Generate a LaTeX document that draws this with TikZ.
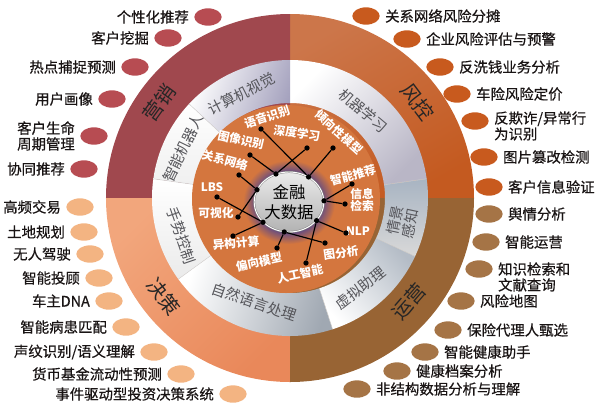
\documentclass[tikz,border=0pt]{standalone}
\usepackage{fontspec}
\setmainfont{Noto Sans CJK SC}
\newfontfamily\lblfont{Noto Sans CJK SC}[FakeBold=0.5]
\usepackage{tikz}
\usetikzlibrary{positioning,shapes.geometric}
\definecolor{cMkt}{RGB}{160,72,78}
\definecolor{cRiskA}{RGB}{204,118,74}
\definecolor{cRiskB}{RGB}{196,90,32}
\definecolor{cDecA}{RGB}{242,166,124}
\definecolor{cDecB}{RGB}{233,136,90}
\definecolor{cOps}{RGB}{152,100,52}
\definecolor{dMkt}{RGB}{183,76,82}
\definecolor{dRisk}{RGB}{200,90,30}
\definecolor{dDec}{RGB}{243,180,130}
\definecolor{dOps}{RGB}{165,116,70}
\definecolor{cDisc}{RGB}{212,118,62}
\definecolor{cGlow}{RGB}{84,70,140}
\definecolor{cRingTxt}{RGB}{85,85,90}
\definecolor{cTxt}{RGB}{25,20,20}
\definecolor{gML}{RGB}{185,182,198}
\definecolor{gCV}{RGB}{165,162,190}
\definecolor{gNLP}{RGB}{160,168,178}
\definecolor{gVA}{RGB}{180,188,198}
\definecolor{gCtx}{RGB}{168,180,194}
\pgfdeclareradialshading{glow}{\pgfpoint{0cm}{0cm}}{color(0bp)=(cGlow); color(17bp)=(cGlow); color(25bp)=(cDisc); color(50bp)=(cDisc)}

\begin{document}
\begin{tikzpicture}[x=0.03cm,y=0.03cm,font=\fontsize{12.3}{13.5}\selectfont,
  lbl/.style={text=cTxt,inner sep=0pt,font=\lblfont\fontsize{12.3}{13.5}\selectfont},
  blob/.style={ellipse,minimum width=0.82cm,minimum height=0.52cm,inner sep=0pt},
  quad/.style={font=\fontsize{17}{19}\selectfont,text=black!85},
  sect/.style={font=\fontsize{12.5}{13.5}\selectfont,text=cRingTxt,inner sep=0pt},
  tag/.style={font=\bfseries\fontsize{10}{11}\selectfont,text=white,inner sep=0pt},
  pin/.style={circle,fill=black,inner sep=0pt,minimum size=4.5pt},
  link/.style={line width=1pt},
  node distance=0.15cm]
\useasboundingbox (-290,-210) rectangle (308,198);
% outer quadrants
\shade[top color=cRiskA,bottom color=cRiskB,shading angle=30] (0,0) -- (0:184) arc[start angle=0,end angle=90,radius=184] -- cycle;
\fill[cMkt] (0,0) -- (90:184) arc[start angle=90,end angle=180,radius=184] -- cycle;
\shade[top color=cDecA,bottom color=cDecB,shading angle=45] (0,0) -- (180:184) arc[start angle=180,end angle=270,radius=184] -- cycle;
\fill[cOps] (0,0) -- (270:184) arc[start angle=270,end angle=360,radius=184] -- cycle;
\node[quad,rotate=54] (qMkt) at (144:162) {营销};
\node[quad,rotate=-53] (qRisk) at (37:160) {风控};
\node[quad,rotate=-52] (qDec) at (218:160) {决策};
\node[quad,rotate=49] (qOps) at (319:158) {运营};
% technology ring
\foreach \a/\b/\ca/\cb/\sh in {8/90/gML/white/-135,90/137/gCV/white/-110,137/172/white/black!6/0,
    172/216/white/black!8/0,216/288/gNLP/white/-108,288/335/gVA/white/-49,335/368/gCtx/black!15/0}
  \shade[top color=\ca,bottom color=\cb,shading angle=\sh] (\a:138) arc[start angle=\a,end angle=\b,radius=138]
    -- (\b:95) arc[start angle=\b,end angle=\a,radius=95] -- cycle;
\foreach \a in {8,137,172,216,288,335}
  \draw[black!18,thin] (\a:95) -- (\a:138);
\node[sect,rotate=27] (sCV) at (115:115) {计算机视觉};
\node[sect,rotate=64] (sRob) at (155:118) {智能机器人};
\node[sect,rotate=-71] (sGes) at (199:115) {手势控制};
\node[sect,rotate=-19] (sNLP) at (251:110) {自然语言处理};
\node[sect,rotate=38] (sVA) at (308:114) {虚拟助理};
\node[sect,rotate=78,align=center] (sCtx) at (348:115) {情景\\感知};
\node[sect,rotate=-40] (sML) at (50:114) {机器学习};
% core
\fill[cDisc] (-4,-1) circle[radius=94];
\shade[shading=glow] (-1,-4) ellipse[x radius=46,y radius=42];
\node[ellipse,minimum width=2.04cm,minimum height=1.8cm,inner sep=0pt,top color=black!8,bottom color=black!30,
  draw=black!50,double=white,double distance=0.8pt,align=center,font=\fontsize{14}{17}\selectfont] (ctr) at (-1,-4) {金融\\大数据};
\foreach \n/\ang in {j1/52,j2/115,j3/159,j4/218,j5/261,j6/326,j7/2}
  \node[pin] (\n) at (ctr.\ang) {};
\node[tag,rotate=18] (tSpeech) at (-23,81) {语音识别};
\node[tag,rotate=-13] (tImg) at (-49,58) {图像识别};
\node[tag,rotate=-15] (tNet) at (-65,38) {关系网络};
\node[tag] (tLBS) at (-78,11) {LBS};
\node[tag] (tVis) at (-74,-15) {可视化};
\node[tag,rotate=5] (tHet) at (-54,-45) {异构计算};
\node[tag,rotate=12] (tBias) at (-31,-64) {偏向模型};
\node[tag,rotate=12] (tAI) at (10,-76) {人工智能};
\node[tag,rotate=8] (tGraph) at (51,-55) {图分析};
\node[tag] (tNLP) at (68,-33) {NLP};
\node[tag,align=center] (tIR) at (72,-2) {信息\\检索};
\node[tag,rotate=15] (tRec) at (63,23) {智能推荐};
\node[tag,rotate=-42] (tProp) at (49,66) {倾向性模型};
\node[tag,rotate=-8] (tDL) at (7,65) {深度学习};
\node[pin] (pSpeech) at (-29,69) {};
\node[pin] (pProp) at (43,50) {};
\node[pin] (pDL) at (17,50) {};
\node[pin] (pImg) at (-40,43) {};
\node[pin] (pNet) at (-51,23) {};
\node[pin] (pVis) at (-52,-19) {};
\node[pin] (pLBS) at (-73,1) {};
\node[pin] (pHet) at (-57,-38) {};
\node[pin] (pBias) at (-13,-50) {};
\node[pin] (pGraph) at (35,-45) {};
\node[pin] (pAI) at (16,-65) {};
\node[pin] (pNLP) at (56,-35) {};
\node[pin] (pRec) at (62,14) {};
\node[pin] (pIR) at (55,-6) {};
\draw[link] (pSpeech) -- (j1) -- (pProp);
\draw[link] (pDL) -- (j2) -- (pImg);
\draw[link] (pNet) -- (j3) -- (pVis);
\draw[link] (pLBS) -- (j4) -- (pHet);
\draw[link] (pBias) -- (j5) -- (pGraph);
\draw[link] (pAI) -- (j6) -- (pNLP);
\draw[link] (pRec) -- (j7) -- (pIR);
% applications
\foreach \p/\t [count=\i] in {(-82,181)/个性化推荐,(-122,160)/客户挖掘,(-155,131)/热点捕捉预测,
    (-178,99)/用户画像,(-196,62)/{客户生命\\周期管理},(-206,29)/协同推荐}
  {\node[blob,fill=dMkt] (m\i) at \p {};
   \node[lbl,align=center,left=of m\i] (lm\i) {\t};}
\foreach \p/\t [count=\i] in {(-210,-9)/高频交易,(-206,-34)/土地规划,(-200,-56)/无人驾驶,(-191,-80)/智能投顾,
    (-181,-103)/车主DNA,(-164,-129)/智能病患匹配,(-136,-154)/{声纹识别/语义理解},
    (-109,-176)/货币基金流动性预测,(-57,-196)/事件驱动型投资决策系统}
  {\node[blob,fill=dDec] (c\i) at \p {};
   \node[lbl,left=of c\i] (lc\i) {\t};}
\foreach \p/\t/\s [count=\i] in {(76,182)/关系网络风险分摊/0,(117,159)/企业风险评估与预警/0,(150,131)/反洗钱业务分析/0,
    (167,104)/车险风险定价/0,(185,77)/{反欺诈/异常行\\为识别}/-5,(194,41)/图片篡改检测/0,(199,11)/客户信息验证/0}
  {\node[blob,fill=dRisk] (r\i) at \p {};
   \node[lbl,align=left,right=of r\i,yshift=\s*0.03cm] (lr\i) {\t};}
\foreach \p/\t/\s [count=\i] in {(199,-16)/舆情分析/0,(196,-44)/智能运营/0,(189,-71)/{知识检索和\\文献查询}/-8,
    (171,-103)/风险地图/0,(158,-132)/保险代理人甄选/0,(135,-154)/智能健康助手/0,(107,-173)/健康档案分析/0,
    (67,-191)/非结构数据分析与理解/0}
  {\node[blob,fill=dOps] (o\i) at \p {};
   \node[lbl,align=left,right=of o\i,yshift=\s*0.03cm] (lo\i) {\t};}
\end{tikzpicture}
\end{document}
